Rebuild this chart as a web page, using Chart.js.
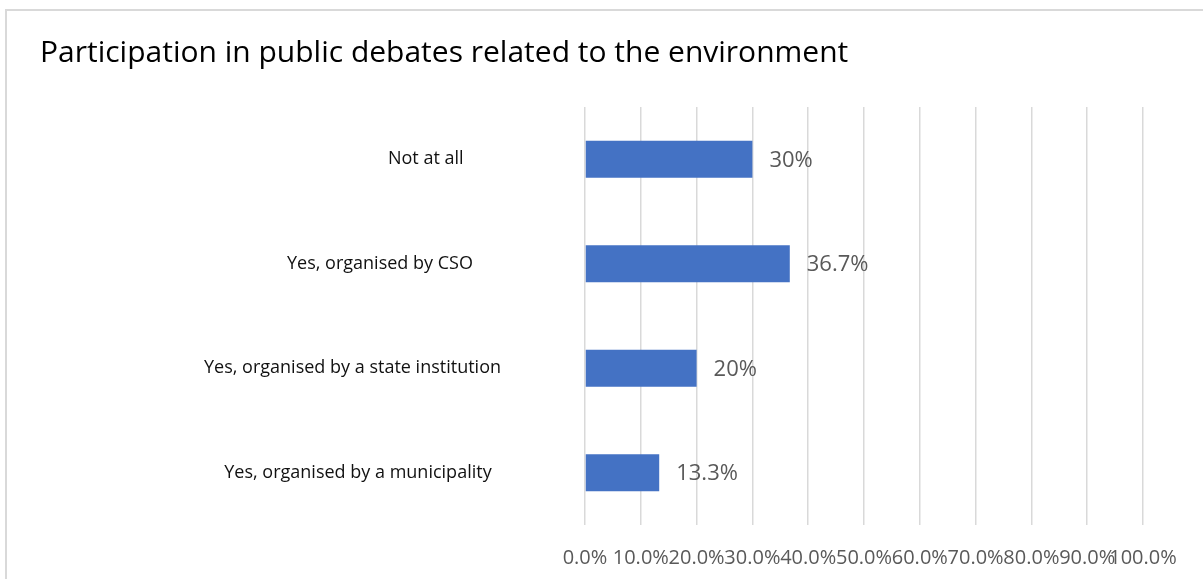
<!DOCTYPE html>
<html>
<head>
<meta charset="utf-8">
<script src="https://cdn.jsdelivr.net/npm/chart.js@4"></script>
<style>
  html, body { margin: 0; padding: 0; background: #fff; overflow: hidden; }
  #frame {
    position: absolute; left: 5px; top: 9px; width: 1300px; height: 700px;
    border: 2px solid #d9d9d9; box-sizing: border-box;
  }
  #chart { position: absolute; left: 0; top: 0; }
</style>
</head>
<body>
<div id="frame"></div>
<canvas id="chart" width="1203" height="579"></canvas>
<script>
// data
const categories = [
    'Not at all',
    'Yes, organised by CSO',
    'Yes, organised by a state institution',
    'Yes, organised by a municipality'
];
const shares = [30, 36.7, 20, 13.3];
const xTicks = [0, 10, 20, 30, 40, 50, 60, 70, 80, 90, 100];

// labels in the original sit a little left of the common right edge
const labelIndent = [8, 6, 0, 2];

const FONT = "'Open Sans', 'DejaVu Sans', sans-serif";

const valueLabels = {
    id: 'valueLabels',
    afterDatasetsDraw(chart) {
        const ctx = chart.ctx;
        const meta = chart.getDatasetMeta(0);
        ctx.save();
        ctx.font = `22px ${FONT}`;
        ctx.fillStyle = '#595959';
        ctx.textAlign = 'left';
        ctx.textBaseline = 'middle';
        meta.data.forEach((bar, i) => {
            ctx.fillText(shares[i] + '%', bar.x + 17, bar.y + 1);
        });
        ctx.restore();
    }
};

new Chart(document.getElementById('chart'), {
    type: 'bar',
    data: {
        labels: categories,
        datasets: [{
            data: shares,
            backgroundColor: '#4472c4',
            borderWidth: 0,
            barPercentage: 0.354,
            categoryPercentage: 1
        }]
    },
    options: {
        indexAxis: 'y',
        responsive: false,
        animation: false,
        devicePixelRatio: 1,
        layout: { padding: { left: 40, right: 60, top: 0, bottom: 9 } },
        plugins: {
            legend: { display: false },
            tooltip: { enabled: false },
            title: {
                display: true,
                text: 'Participation in public debates related to the environment',
                align: 'start',
                color: '#000',
                font: { family: FONT, size: 30, weight: 'normal' },
                padding: { top: 35, bottom: 36 }
            }
        },
        scales: {
            x: {
                min: xTicks[0],
                max: xTicks[xTicks.length - 1],
                afterBuildTicks: scale => { scale.ticks = xTicks.map(v => ({ value: v })); },
                afterFit: scale => { scale.height = 45; },
                grid: { color: '#d9d9d9', lineWidth: 1.5, drawTicks: false },
                border: { display: false },
                ticks: {
                    autoSkip: false,
                    maxRotation: 0,
                    minRotation: 0,
                    padding: 21,
                    color: '#595959',
                    font: { family: FONT, size: 20 },
                    callback: v => v.toFixed(1) + '%'
                }
            },
            y: {
                grid: { display: false, drawTicks: false },
                border: { display: false },
                afterFit: scale => {
                    // the big label gap would otherwise also pad top and bottom
                    scale.width = 545;
                    scale.paddingTop = 0;
                    scale.paddingBottom = 0;
                },
                ticks: {
                    padding: 84,
                    color: '#111',
                    font: { family: FONT, size: 18 },
                    callback: (v, i) => categories[i] + ' '.repeat(labelIndent[i])
                }
            }
        }
    },
    plugins: [valueLabels]
});
</script>
</body>
</html>
